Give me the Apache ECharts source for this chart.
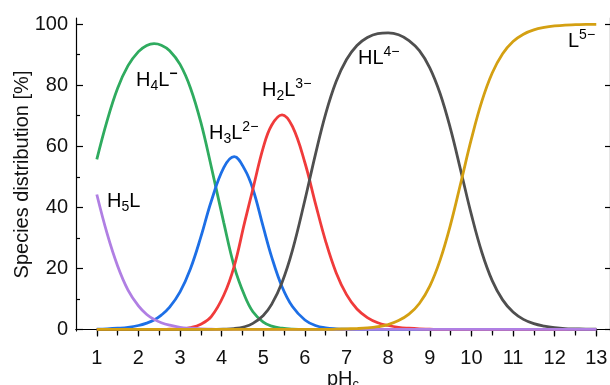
<!DOCTYPE html>
<html>
<head>
<meta charset="utf-8">
<script src="https://cdn.jsdelivr.net/npm/echarts@6/dist/echarts.min.js"></script>
<style>
  html, body { margin: 0; padding: 0; background: #fff; }
  #chart { width: 610px; height: 385px; }
</style>
</head>
<body>
<div id="chart"></div>
<script>
// pH sample points (peaks of the curves fall on samples)
const pH = [1, 1.25, 1.5, 1.75, 2, 2.2, 2.375, 2.55, 2.75, 3, 3.25, 3.5, 3.75,
  4.05, 4.3, 4.55, 4.75, 5, 5.2, 5.45, 5.7,
  6, 6.25, 6.5, 6.75, 7, 7.25, 7.5, 7.75, 8, 8.25, 8.5, 8.75, 9, 9.25, 9.5, 9.75,
  10, 10.25, 10.5, 10.75, 11, 11.25, 11.5, 11.75, 12, 12.25, 12.5, 12.75, 13];

// species distribution [%]
const H5L = [44.2, 31.3, 20.8, 12.9, 7.7, 4.9, 3.3, 2.2, 1.4, 0.7, 0.4, 0.2, 0.1,
  0, 0, 0, 0, 0, 0, 0, 0,
  0, 0, 0, 0, 0, 0, 0, 0, 0, 0, 0, 0, 0, 0, 0, 0,
  0, 0, 0, 0, 0, 0, 0, 0, 0, 0, 0, 0, 0];
const H4L = [55.7, 68.5, 79.0, 86.4, 91.0, 93.0, 93.6, 93.1, 91.3, 86.8, 79.1, 67.8, 53.3,
  35.0, 20.7, 11.1, 5.8, 2.4, 1.1, 0.4, 0.1,
  0, 0, 0, 0, 0, 0, 0, 0, 0, 0, 0, 0, 0, 0, 0, 0,
  0, 0, 0, 0, 0, 0, 0, 0, 0, 0, 0, 0, 0];
const H3L = [0.1, 0.2, 0.4, 0.7, 1.3, 2.1, 3.1, 4.7, 7.3, 12.3, 19.9, 30.3, 42.0,
  53.0, 56.6, 52.5, 46.0, 33.5, 23.8, 14.0, 7.5,
  3.1, 1.3, 0.5, 0.2, 0.1, 0, 0, 0, 0, 0, 0, 0, 0, 0, 0, 0,
  0, 0, 0, 0, 0, 0, 0, 0, 0, 0, 0, 0, 0];
const H2L = [0, 0, 0, 0, 0, 0, 0, 0, 0.1, 0.2, 0.6, 1.7, 4.2,
  11.2, 20.7, 35.0, 46.0, 59.6, 66.9, 70.3, 66.5,
  54.6, 41.4, 28.8, 18.6, 11.4, 6.7, 3.9, 2.2, 1.3, 0.7, 0.4, 0.2, 0.1, 0, 0, 0,
  0, 0, 0, 0, 0, 0, 0, 0, 0, 0, 0, 0, 0];
const HL = [0, 0, 0, 0, 0, 0, 0, 0, 0, 0, 0, 0, 0,
  0.1, 0.3, 0.9, 2.0, 4.6, 8.2, 15.4, 25.9,
  42.4, 57.2, 70.7, 81.2, 88.4, 93.0, 95.6, 96.9, 97.1, 96.5, 94.6, 91.3, 85.7, 77.2, 65.6, 51.7,
  37.6, 25.3, 16.0, 9.7, 5.7, 3.3, 1.9, 1.1, 0.6, 0.3, 0.2, 0.1, 0.1];
const L = [0, 0, 0, 0, 0, 0, 0, 0, 0, 0, 0, 0, 0,
  0, 0, 0, 0, 0, 0, 0, 0,
  0, 0, 0, 0.1, 0.2, 0.3, 0.5, 0.9, 1.6, 2.9, 5.0, 8.5, 14.2, 22.8, 34.4, 48.3,
  62.4, 74.7, 84.0, 90.3, 94.3, 96.7, 98.1, 98.9, 99.4, 99.7, 99.8, 99.9, 99.9];

const xTicks = [1, 2, 3, 4, 5, 6, 7, 8, 9, 10, 11, 12, 13];
const xMinorTicks = [1.5, 2.5, 3.5, 4.5, 5.5, 6.5, 7.5, 8.5, 9.5, 10.5, 11.5, 12.5];
const yTicks = [0, 20, 40, 60, 80, 100];
const yMinorTicks = [10, 30, 50, 70, 90];

const FONT = '"Liberation Sans", Arial, sans-serif';

const chart = echarts.init(document.getElementById('chart'));

const line = (name, values, color) => ({
  name,
  type: 'line',
  data: pH.map((x, i) => [x, values[i]]),
  smooth: 0.4,
  showSymbol: false,
  lineStyle: { color, width: 2.8 },
  itemStyle: { color },
  xAxisIndex: 0,
  yAxisIndex: 0
});

const richLabel = {
  b: { fontSize: 20, fontFamily: FONT, color: '#111', lineHeight: 26, verticalAlign: 'middle' },
  sub: { fontSize: 14, fontFamily: FONT, color: '#111', lineHeight: 13, verticalAlign: 'bottom' },
  sup: { fontSize: 14, fontFamily: FONT, color: '#111', lineHeight: 13, verticalAlign: 'top' },
  m: { fontSize: 14, fontFamily: FONT, fontWeight: 'bold', color: '#111', lineHeight: 13, verticalAlign: 'top' }
};
const note = (left, top, text) => ({
  type: 'text', left, top,
  style: { text, rich: richLabel }
});

const option = {
  animation: false,
  backgroundColor: '#fff',
  grid: { left: 76, right: 0, top: 18, bottom: 54, outerBoundsMode: 'none' },
  xAxis: [
    {
      type: 'value', position: 'bottom', min: 0.5, max: 13.33,
      name: 'pH{s|c}', nameLocation: 'middle', nameGap: 37, nameMoveOverlap: false,
      nameTextStyle: {
        fontSize: 20, fontFamily: FONT, color: '#111', verticalAlign: 'top',
        rich: { s: { fontSize: 13, fontFamily: FONT, color: '#111', verticalAlign: 'bottom', padding: [10, 0, 0, 0] } }
      },
      axisLine: { lineStyle: { color: '#000', width: 1.2 } },
      axisTick: { customValues: xTicks, inside: false, length: 7, lineStyle: { color: '#000', width: 1.2 } },
      axisLabel: { customValues: xTicks, fontSize: 20, fontFamily: FONT, color: '#111', margin: 17 },
      splitLine: { show: false }
    },
    {
      type: 'value', position: 'bottom', min: 0.5, max: 13.33,
      axisLine: { show: false },
      axisTick: { customValues: xMinorTicks, inside: false, length: 4, lineStyle: { color: '#000', width: 1.2 } },
      axisLabel: { show: false },
      splitLine: { show: false }
    },
    {
      type: 'value', position: 'top', min: 0.5, max: 13.33,
      axisLine: { lineStyle: { color: '#000', width: 1.2 } },
      axisTick: { customValues: xTicks.concat(xMinorTicks), inside: true, length: 6, lineStyle: { color: '#000', width: 1.2 } },
      axisLabel: { show: false },
      splitLine: { show: false }
    }
  ],
  yAxis: [
    {
      type: 'value', position: 'left', min: -0.5, max: 102,
      name: 'Species distribution [%]', nameLocation: 'middle', nameGap: 44, nameMoveOverlap: false,
      nameTextStyle: { fontSize: 20, fontFamily: FONT, color: '#111' },
      axisLine: { lineStyle: { color: '#000', width: 1.2 } },
      axisTick: { customValues: yTicks, inside: true, length: 7, lineStyle: { color: '#000', width: 1.2 } },
      axisLabel: { customValues: yTicks, fontSize: 20, fontFamily: FONT, color: '#111', margin: 8 },
      splitLine: { show: false }
    },
    {
      type: 'value', position: 'left', min: -0.5, max: 102,
      axisLine: { show: false },
      axisTick: { customValues: yMinorTicks, inside: true, length: 4, lineStyle: { color: '#000', width: 1.2 } },
      axisLabel: { show: false },
      splitLine: { show: false }
    },
    {
      type: 'value', position: 'right', min: -0.5, max: 102,
      axisLine: { lineStyle: { color: '#000', width: 1.2 } },
      axisTick: { customValues: yTicks, inside: true, length: 5, lineStyle: { color: '#000', width: 1.2 } },
      axisLabel: { show: false },
      splitLine: { show: false }
    }
  ],
  series: [
    line('H4L', H4L, '#2fab5f'),
    line('H3L', H3L, '#1d6fe6'),
    line('H2L', H2L, '#f03b3b'),
    line('HL', HL, '#4f4f4f'),
    line('H5L', H5L, '#b07fe3'),
    line('L', L, '#d4a012')
  ],
  graphic: [
    note(136, 67, '{b|H}{sub|4}{b|L}{m|−}'),
    note(107, 191, '{b|H}{sub|5}{b|L}'),
    note(209, 120, '{b|H}{sub|3}{b|L}{sup|2−}'),
    note(262, 77, '{b|H}{sub|2}{b|L}{sup|3−}'),
    note(358, 45, '{b|HL}{sup|4−}'),
    note(568, 28, '{b|L}{sup|5−}')
  ]
};

chart.setOption(option);
</script>
</body>
</html>
